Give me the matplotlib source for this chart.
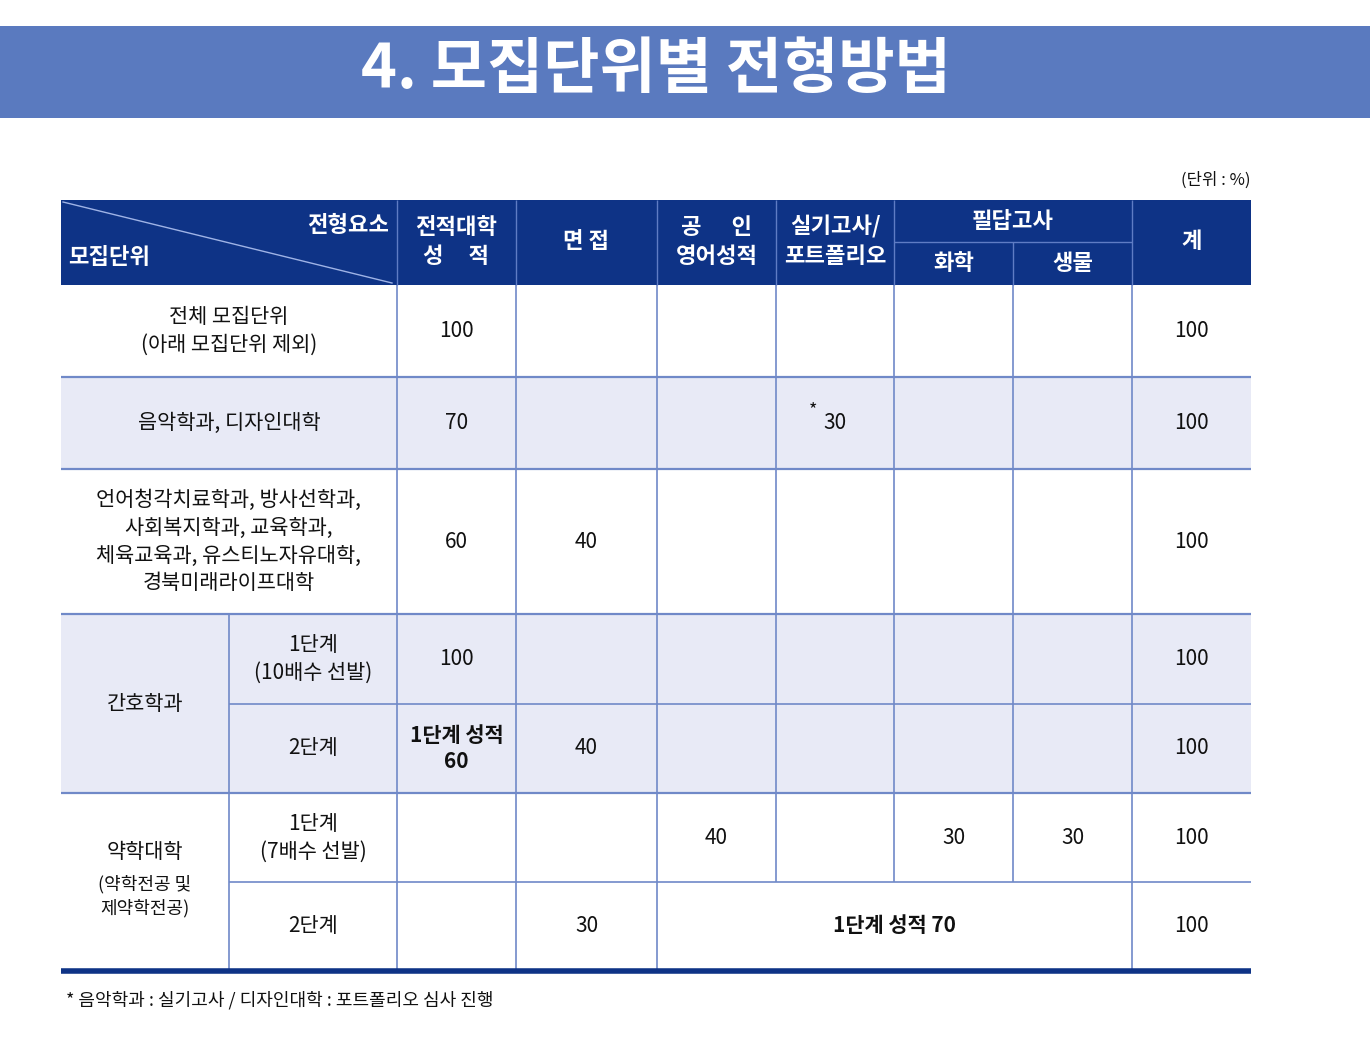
import matplotlib
matplotlib.use("Agg")
import matplotlib.pyplot as plt
from matplotlib.patches import Rectangle

plt.rcParams['font.family'] = ['Noto Sans CJK KR', 'DejaVu Sans']

title = "4. 모집단위별 전형방법"
unit_note = "(단위 : %)"
footnote = "* 음악학과 : 실기고사 / 디자인대학 : 포트폴리오 심사 진행"
headers = ["전적대학\n성     적", "면 접", "공      인\n영어성적", "실기고사/\n포트폴리오", "화학", "생물", "계"]

row_labels = ["전체 모집단위\n(아래 모집단위 제외)", "음악학과, 디자인대학",
              "언어청각치료학과, 방사선학과,\n사회복지학과, 교육학과,\n체육교육과, 유스티노자유대학,\n경북미래라이프대학"]
row_values = [["100", "", "", "", "", "", "100"],
              ["70", "", "", "30", "", "", "100"],
              ["60", "40", "", "", "", "", "100"]]
nursing_label = "간호학과"
nursing_stages = ["1단계\n(10배수 선발)", "2단계"]
nursing_values = [["100", "", "", "", "", "", "100"],
                  ["1단계 성적\n60", "40", "", "", "", "", "100"]]
pharm_label = "약학대학"
pharm_sub = "(약학전공 및\n제약학전공)"
pharm_stages = ["1단계\n(7배수 선발)", "2단계"]
pharm_values1 = ["", "", "40", "", "30", "30", "100"]
pharm_values2 = ["", "30", "1단계 성적 70", "100"]

NAVY = "#0e3386"; BANNER = "#5a7abf"; LINE = "#7089c8"; SHADE = "#e8eaf6"

fig = plt.figure(figsize=(13.70, 10.63), dpi=100)
ax = fig.add_axes([0, 0, 1, 1]); ax.set_xlim(0, 1370); ax.set_ylim(1063, 0); ax.axis('off')

def rect(x0, y0, x1, y1, c):
    ax.add_patch(Rectangle((x0, y0), x1 - x0, y1 - y0, fc=c, ec='none', zorder=0))
def hl(y, x0, x1, c=LINE, lw=1.2):
    ax.plot([x0, x1], [y, y], color=c, lw=lw, zorder=2, solid_capstyle='butt')
def vl(x, y0, y1, c=LINE, lw=1.2):
    ax.plot([x, x], [y0, y1], color=c, lw=lw, zorder=2, solid_capstyle='butt')
def txt(x, y, s, size=15, color='#111', weight='normal', ha='center', ls=1.35):
    ax.text(x, y, s, fontsize=size, color=color, weight=weight, ha=ha, va='center',
            linespacing=ls, zorder=3)

# banner
rect(0, 26, 1370, 118, BANNER)
txt(656, 70, title, size=44, color='white', weight='bold')
txt(1251, 180, unit_note, size=12, ha='right')

X = [61, 397, 516, 657, 776, 894, 1013, 1132, 1251]
XS = 229
rows = [285, 377, 469, 614, 704, 793, 882, 970]
# header
rect(61, 200, 1251, 285, NAVY)
ax.plot([63, 392], [202, 283], color='#9fb3e6', lw=1, zorder=2)
txt(389, 226, "전형요소", size=16, color='white', weight='bold', ha='right')
txt(68, 257, "모집단위", size=16, color='white', weight='bold', ha='left')
for i, h in enumerate(headers):
    if i in (4, 5):
        txt((X[i+1] + X[i+2]) / 2, 263, h, size=16, color='white', weight='bold')
    else:
        txt((X[i+1] + X[i+2]) / 2, 242, h, size=16, color='white', weight='bold')
txt((X[5] + X[7]) / 2, 221, "필답고사", size=16, color='white', weight='bold')
hl(242, X[5], X[7], c='#5f7cc4', lw=1)
for i in range(1, 8):
    if i == 6:
        vl(X[i], 242, 285, c='#5f7cc4', lw=1)
    else:
        vl(X[i], 200, 285, c='#5f7cc4', lw=1)

# shading
rect(61, rows[1], 1251, rows[2], SHADE)
rect(61, rows[3], 1251, rows[5], SHADE)

def cy(r): return (rows[r] + rows[r + 1]) / 2
def colc(i): return (X[i + 1] + X[i + 2]) / 2

for r in range(3):
    txt((X[0] + X[1]) / 2, cy(r), row_labels[r], size=15)
    for i, v in enumerate(row_values[r]):
        if v:
            if r == 1 and i == 3:
                txt(colc(i), cy(r), v, size=15)
                txt(colc(i) - 22, cy(r) - 13, "*", size=13)
            else:
                txt(colc(i), cy(r), v, size=15)
txt((X[0] + XS) / 2, rows[4], nursing_label, size=15)
for k in range(2):
    txt((XS + X[1]) / 2, cy(3 + k), nursing_stages[k], size=15)
    for i, v in enumerate(nursing_values[k]):
        if v:
            txt(colc(i), cy(3 + k), v, size=15, weight='bold' if i == 0 and k == 1 else 'normal')
txt((X[0] + XS) / 2, 852, pharm_label, size=15)
txt((X[0] + XS) / 2, 896, pharm_sub, size=13)
txt((XS + X[1]) / 2, cy(5), pharm_stages[0], size=15)
txt((XS + X[1]) / 2, cy(6), pharm_stages[1], size=15)
for i, v in enumerate(pharm_values1):
    if v: txt(colc(i), cy(5), v, size=15)
txt(colc(1), cy(6), pharm_values2[1], size=15)
txt((X[3] + X[7]) / 2, cy(6), pharm_values2[2], size=15, weight='bold')
txt(colc(6), cy(6), pharm_values2[3], size=15)

# grid lines
for r in range(1, 7):
    if r in (4, 6):
        hl(rows[r], XS, 1251)
    else:
        hl(rows[r], 61, 1251, lw=1.6)
for i in range(1, 8):
    vl(X[i], 285, 882)
vl(X[1], 882, 970); vl(X[2], 882, 970); vl(X[3], 882, 970); vl(X[7], 882, 970)
vl(XS, 614, 970)
hl(971, 61, 1251, c=NAVY, lw=4)

txt(66, 1000, footnote, size=13, ha='left')
fig.savefig("out.png", dpi=100)
